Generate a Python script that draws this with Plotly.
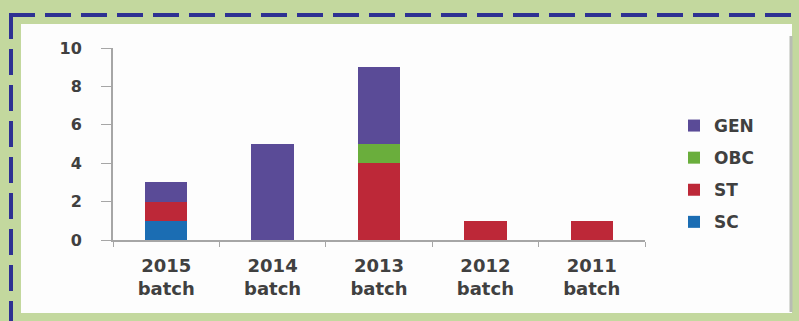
import plotly.graph_objects as go

# Students per batch, split by category
batches = ["2015<br>batch", "2014<br>batch", "2013<br>batch", "2012<br>batch", "2011<br>batch"]
sc = [1, 0, 0, 0, 0]
st = [1, 0, 4, 1, 1]
obc = [0, 0, 1, 0, 0]
gen = [1, 5, 4, 0, 0]
y_ticks = [0, 2, 4, 6, 8, 10]

W, H = 799, 321
L, R, T, B = 113, 154, 48, 81
PW, PH = W - L - R, H - T - B

def px(x):
    return (x - L) / PW

def py(y):
    return (H - B - y) / PH

fig = go.Figure()
series = [("SC", sc, "#1b6db3", 4), ("ST", st, "#bd2838", 3),
          ("OBC", obc, "#6aae3c", 2), ("GEN", gen, "#5a4b97", 1)]
for name, vals, color, rank in series:
    fig.add_trace(go.Bar(x=batches, y=vals, name=name, legendrank=rank,
                         legendgroup=name,
                         marker=dict(color=color, line=dict(width=0)),
                         width=0.4))

shapes = [
    # white card behind the chart
    dict(type="rect", xref="paper", yref="paper", layer="below",
         x0=px(21), x1=px(792), y0=py(313), y1=py(24),
         fillcolor="#fdfdfd", line=dict(width=0)),
    # soft shadow on the card's right edge
    dict(type="line", xref="paper", yref="paper", layer="below",
         x0=px(791), x1=px(791), y0=py(312), y1=py(36),
         line=dict(color="#b8bcb4", width=3)),
    # dashed frame
    dict(type="line", xref="paper", yref="paper",
         x0=px(9), x1=px(805), y0=py(15), y1=py(15),
         line=dict(color="#2e3192", width=4, dash="26px,10px")),
    dict(type="line", xref="paper", yref="paper",
         x0=px(11), x1=px(11), y0=py(13), y1=py(330),
         line=dict(color="#2e3192", width=4, dash="26px,10px")),
]

font_family = "DejaVu Sans"
text_color = "#404040"
fig.update_layout(
    width=W, height=H,
    margin=dict(l=L, r=R, t=T, b=B),
    barmode="stack",
    paper_bgcolor="#c3d89e",
    plot_bgcolor="rgba(0,0,0,0)",
    shapes=shapes,
    showlegend=True,
    legend=dict(x=px(674), y=py(108), xanchor="left", yanchor="top",
                traceorder="grouped", tracegroupgap=7,
                font=dict(family=font_family, size=17, color=text_color,
                          weight="bold"),
                bgcolor="rgba(0,0,0,0)"),
    bargap=0.6,
)
fig.update_xaxes(
    showline=True, linecolor="#a6a6a6", linewidth=2,
    ticks="outside", ticklen=5, tickcolor="#a6a6a6", tickwidth=1,
    tickson="boundaries", showgrid=False, ticklabelstandoff=8,
    tickfont=dict(family=font_family, size=18, color=text_color,
                  weight="bold"),
    range=[-0.5, 4.5],
)
fig.update_yaxes(
    range=[0, 10], tickvals=y_ticks,
    showline=True, linecolor="#a6a6a6", linewidth=2,
    ticks="outside", ticklen=10, tickcolor="#a6a6a6", tickwidth=1,
    showgrid=False, zeroline=False, ticklabelstandoff=16,
    tickfont=dict(family=font_family, size=16, color=text_color,
                  weight="bold"),
)

fig.write_html("out.html")
